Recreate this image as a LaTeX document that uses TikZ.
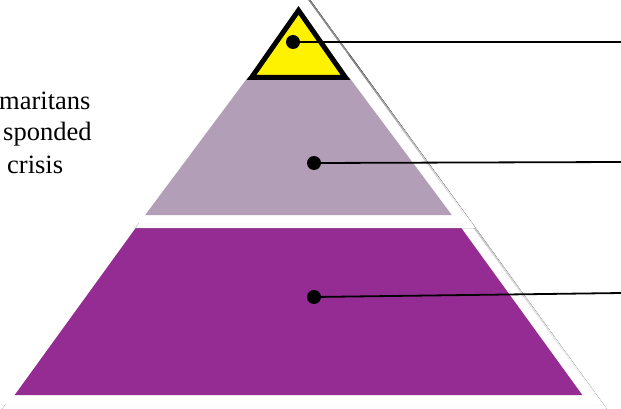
\documentclass[tikz,border=0pt]{standalone}
\usepackage{fontspec}
\setmainfont{Liberation Serif}
\usepackage{xcolor}
\definecolor{mauve}{RGB}{178,158,182}
\definecolor{plum}{RGB}{148,44,148}
\definecolor{shade}{RGB}{192,192,192}

\begin{document}
\begin{tikzpicture}[x=1pt,y=-1pt,
  dot/.style={circle,fill=black,inner sep=0pt,minimum size=14pt},
  leader/.style={black,line width=1.8pt},
  sidetext/.style={anchor=base west,inner sep=0pt,font=\rmfamily\fontsize{26.5}{31}\selectfont}]
  \clip (0,0) rectangle (621,409);
  % outer frame and its shadow
  \fill[shade](304.5,-8.1)--(606.9,409)--(2.1,409)--cycle;
  \fill[white](298.5,-13.1)--(600.9,404)--(-3.9,404)--cycle;
  % lower band
  \fill[plum](135.7,228)--(461.3,228)--(582.3,395)--(14.7,395)--cycle;
  % middle band with white rim and shadow
  \fill[shade](258.8,55)--(350.3,55)--(475.7,228)--(135.5,228)--cycle;
  \fill[white](252.8,50)--(344.3,50)--(469.7,223)--(127.3,223)--cycle;
  \fill[mauve](248.1,77)--(348.9,77)--(451.8,215)--(145.2,215)--cycle;
  % top
  \draw[line width=5pt,line join=miter,fill=yellow](298.5,10.4)--(345.5,77.5)--(251.5,77.5)--cycle;
  % markers and leaders
  \node[dot] (dotTop) at (293,42) {};
  \node[dot] (dotMid) at (314,163) {};
  \node[dot] (dotLow) at (314,297) {};
  \coordinate (endTop) at (622,42);
  \coordinate (endMid) at (622,162);
  \coordinate (endLow) at (622,293);
  \draw[leader](dotTop)--(endTop);
  \draw[leader](dotMid)--(endMid);
  \draw[leader](dotLow)--(endLow);
  % left text
  \node[sidetext] (txtA) at (-1,110) {maritans};
  \node[sidetext] (txtB) at (3,141) {sponded};
  \node[sidetext] (txtC) at (7,173) {crisis};
\end{tikzpicture}
\end{document}
